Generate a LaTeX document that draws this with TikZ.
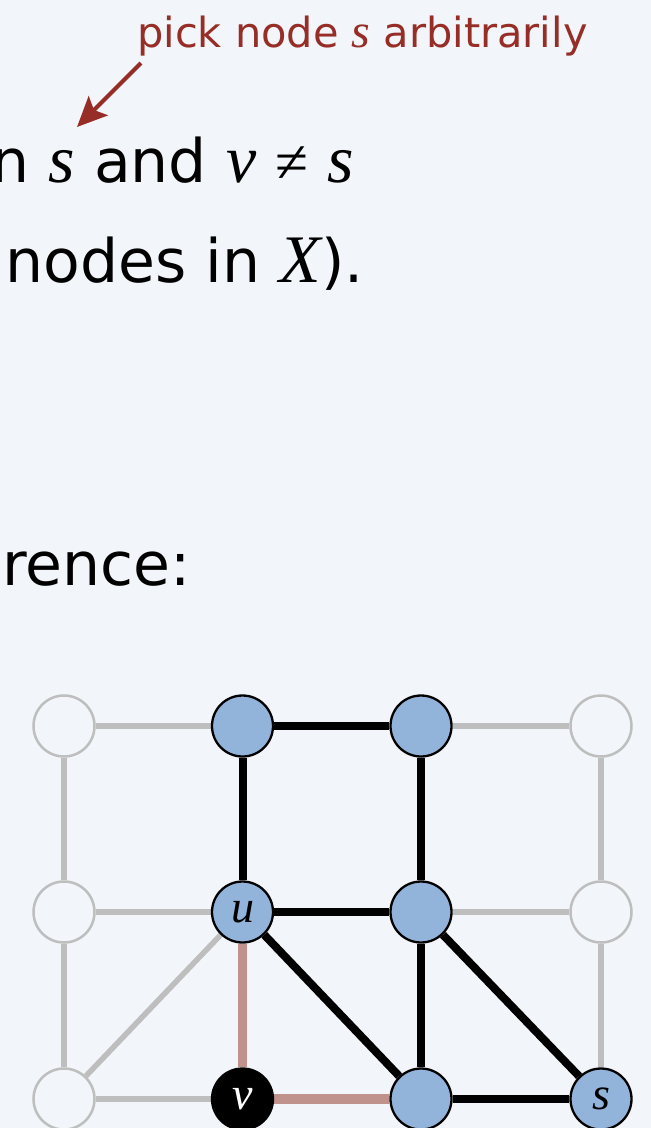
\documentclass[tikz,border=0pt]{standalone}
\usepackage{fontspec}
\setmainfont{DejaVu Sans}
\newfontfamily\lserif{Liberation Serif}
\usetikzlibrary{arrows.meta}
\definecolor{bg}{RGB}{242,245,249}
\definecolor{nodeblue}{RGB}{146,180,218}
\definecolor{edgegray}{RGB}{190,190,190}
\definecolor{edgepink}{RGB}{192,146,140}
\definecolor{darkred}{RGB}{150,45,38}
\newcommand{\mi}[1]{{\lserif\itshape\fontsize{68}{68}\selectfont #1}}
\newcommand{\ri}[1]{{\lserif\itshape\fontsize{48}{48}\selectfont #1}}
\pgfdeclarelayer{back}
\pgfdeclarelayer{edges}
\pgfsetlayers{back,edges,main}
\begin{document}
\begin{tikzpicture}[x=1pt,y=-1pt,
  wnode/.style={circle,draw=edgegray,line width=2.5pt,fill=bg,minimum size=61pt,inner sep=0pt},
  bnode/.style={circle,draw=black,line width=2.3pt,fill=nodeblue,minimum size=61pt,inner sep=0pt,font=\fontsize{46}{46}\selectfont\lserif\itshape},
  knode/.style={circle,draw=black,line width=2.3pt,fill=black,text=white,minimum size=61pt,inner sep=0pt,font=\fontsize{46}{46}\selectfont\lserif\itshape},
  gedge/.style={edgegray,line width=5.5pt},
  kedge/.style={black,line width=8pt},
  pedge/.style={edgepink,line width=9.5pt},
  bigtext/.style={anchor=base east,inner sep=0pt,text=black,font=\fontsize{60}{70}\selectfont},
  redtext/.style={anchor=base west,inner sep=0pt,text=darkred,font=\fontsize{41.5}{50}\selectfont},
  redarrow/.style={darkred,line width=4pt,-{Stealth[length=30pt,width=27pt,inset=6pt]}}
]
\begin{pgfonlayer}{back}
\fill[bg] (0,0) rectangle (651,1128);
\end{pgfonlayer}
\useasboundingbox (0,0) rectangle (651,1128);
\clip (0,0) rectangle (651,1128);

% texts
\node[redtext] (pick) at (137,47) {pick node \ri{s} arbitrarily};
\node[bigtext] (l2) at (354,182) {n \mi{s} and \mi{v} {\lserif ≠} \mi{s}};
\node[bigtext] (l3) at (364,282) {nodes in \mi{X}).};
\node[bigtext] (l4) at (191,585) {rence:};

\coordinate (a1) at (141,63);
\coordinate (a2) at (77,127);
\draw[redarrow] (a1) -- (a2);

% nodes
\node[wnode] (n00) at (64,726) {};
\node[bnode] (n10) at (242.5,726) {};
\node[bnode] (n20) at (421,726) {};
\node[wnode] (n30) at (601,726) {};
\node[wnode] (n01) at (64,912) {};
\node[bnode] (n11) at (242.5,912) {u};
\node[bnode] (n21) at (421,912) {};
\node[wnode] (n31) at (601,912) {};
\node[wnode] (n02) at (64,1099) {};
\node[knode] (n12) at (242.5,1099) {v};
\node[bnode] (n22) at (421,1099) {};
\node[bnode] (n32) at (601,1099) {s};

\begin{pgfonlayer}{edges}
\draw[gedge] (n00) -- (n10);
\draw[gedge] (n20) -- (n30);
\draw[gedge] (n00) -- (n01);
\draw[gedge] (n30) -- (n31);
\draw[gedge] (n01) -- (n11);
\draw[gedge] (n21) -- (n31);
\draw[gedge] (n01) -- (n02);
\draw[gedge] (n31) -- (n32);
\draw[gedge] (n11) -- (n02);
\draw[gedge] (n02) -- (n12);
\draw[kedge] (n10) -- (n20);
\draw[kedge] (n10) -- (n11);
\draw[kedge] (n20) -- (n21);
\draw[kedge] (n11) -- (n21);
\draw[kedge] (n11) -- (n22);
\draw[kedge] (n21) -- (n22);
\draw[kedge] (n21) -- (n32);
\draw[kedge] (n22) -- (n32);
\draw[pedge] (n11) -- (n12);
\draw[pedge] (n12) -- (n22);
\end{pgfonlayer}
\end{tikzpicture}
\end{document}
